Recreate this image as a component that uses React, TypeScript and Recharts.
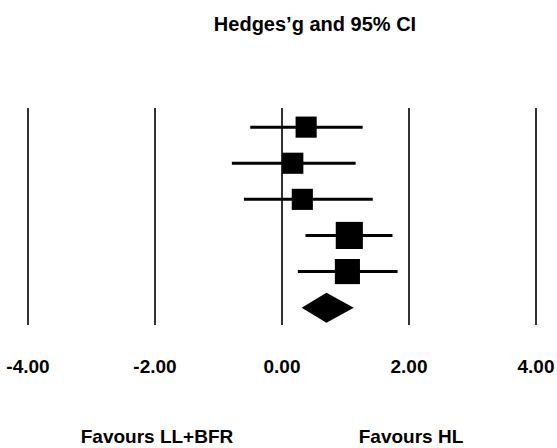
import React from 'react';
import { ComposedChart, Scatter, XAxis, YAxis, ErrorBar, ReferenceLine } from 'recharts';

// one row per study, top to bottom
const studyRows = [1, 2, 3, 4, 5];
const hedgesG = [0.38, 0.17, 0.32, 1.06, 1.03];
const ciLower = [-0.5, -0.79, -0.6, 0.37, 0.25];
const ciUpper = [1.27, 1.16, 1.43, 1.74, 1.82];
const weights = [16.5, 16.5, 16.5, 27.2, 23.3];

// pooled estimate (diamond)
const summaryRow = 6;
const summaryG = 0.7;
const summaryLower = 0.31;
const summaryUpper = 1.13;

const xTicks = [-4, -2, 0, 2, 4];
const sideTicks = [-2, 2];
const sideLabels = ['Favours LL+BFR', 'Favours HL'];

const FONT = '"Liberation Sans", Arial, sans-serif';

const studies = studyRows.map((row, i) => ({
  x: hedgesG[i],
  y: row,
  w: weights[i],
  ci: [hedgesG[i] - ciLower[i], ciUpper[i] - hedgesG[i]],
}));

const summaryPts = [
  { x: summaryLower, y: summaryRow },
  { x: summaryG, y: summaryRow },
  { x: summaryUpper, y: summaryRow },
];

const Square = (props: any) => {
  const { cx, cy, payload } = props;
  const s = Math.sqrt(payload.w) * 5.2;
  return <rect x={cx - s / 2} y={cy - s / 2} width={s} height={s} fill="#000" />;
};

const Diamond = (props: any) => {
  const pts = props.points || [];
  if (pts.length < 3) return <g />;
  const [l, m, r] = pts;
  const h = 15;
  const d = `${l.x},${m.y} ${m.x},${m.y - h} ${r.x},${m.y} ${m.x},${m.y + h}`;
  return <polygon points={d} fill="#000" />;
};

// tick value plus the "favours" caption under -2 and 2
const Tick = (props: any) => {
  const { x, y, payload } = props;
  const idx = sideTicks.indexOf(payload.value);
  return (
    <g>
      <text x={x} y={y} dy={14} textAnchor="middle" fontFamily={FONT} fontWeight="bold" fontSize={19} fill="#000">
        {Number(payload.value).toFixed(2)}
      </text>
      {idx >= 0 && (
        <text x={x + 2} y={y} dy={84} textAnchor="middle" fontFamily={FONT} fontWeight="bold" fontSize={19} fill="#000">
          {sideLabels[idx]}
        </text>
      )}
    </g>
  );
};

export default function App() {
  return (
    <div style={{ position: 'absolute', left: 0, top: 0 }}>
      <ComposedChart width={557} height={448} margin={{ top: 108, right: 21, bottom: 0, left: 28 }}>
        <text x={315} y={31} textAnchor="middle" fontFamily={FONT} fontWeight="bold" fontSize={20} fill="#000">
          Hedges’g and 95% CI
        </text>
        <XAxis
          type="number"
          dataKey="x"
          domain={[-4, 4]}
          ticks={xTicks}
          axisLine={false}
          tickLine={false}
          tickSize={0}
          tickMargin={34}
          height={123}
          interval={0}
          tick={<Tick />}
        />
        <YAxis type="number" dataKey="y" domain={[0.47, 6.48]} reversed hide />
        {xTicks.map((t) => (
          <ReferenceLine key={t} x={t} stroke="#333" strokeWidth={2} />
        ))}
        <Scatter data={studies} shape={<Square />} isAnimationActive={false}>
          <ErrorBar dataKey="ci" direction="x" width={0} stroke="#000" strokeWidth={3} isAnimationActive={false} />
        </Scatter>
        <Scatter
          data={summaryPts}
          shape={() => <g />}
          line={(p: any) => <Diamond {...p} />}
          lineType="joint"
          isAnimationActive={false}
        />
      </ComposedChart>
    </div>
  );
}
